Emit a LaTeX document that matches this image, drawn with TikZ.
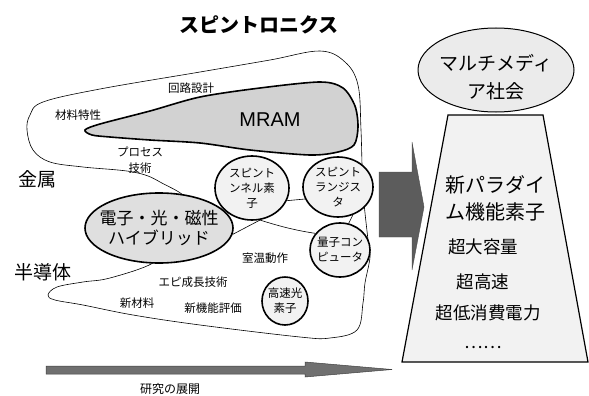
\documentclass[tikz,border=0pt]{standalone}
\usepackage{fontspec}
\setmainfont{Noto Sans CJK JP}
\newfontfamily\latinsans{Liberation Sans}
\usepackage{tikz}
\usetikzlibrary{shapes.geometric}

\begin{document}
\begin{tikzpicture}[x=1pt,y=-1pt,
    blob/.style={line width=.6pt},
    elem/.style={ellipse,draw,line width=1.6pt,fill=gray!10,inner sep=-2pt,align=center,
                 font=\fontsize{11.5}{15}\selectfont},
    lbl/.style={font=\fontsize{11.5}{16}\selectfont,align=center},
    big/.style={font=\fontsize{19}{22}\selectfont},
    feat/.style={font=\fontsize{17.5}{20}\selectfont}]
    \useasboundingbox (0,0) rectangle (589,396);
    % outline of the two fields
    \draw[blob] plot[smooth cycle,tension=.6] coordinates {(190,205) (160,182) (133,172) (83,167)
        (50,162) (33,150) (27,130) (30,115) (43,102) (100,89) (200,72) (270,60) (320,51) (345,62)
        (358,85) (361,130) (363,190) (368,240) (370,257) (365,283) (363,303) (357,330) (330,338)
        (300,337) (200,325) (133,315) (83,305) (55,300) (48,295) (57,287) (83,282) (110,278)
        (153,263) (165,245)};
    % MRAM
    \filldraw[fill=gray!35,line width=1.6pt] plot[smooth cycle,tension=.5] coordinates {(85,130)
        (100,124) (150,111) (200,97) (260,88) (320,82) (343,88) (355,106) (358,127) (354,145)
        (338,152) (310,155) (250,150) (200,143) (150,140) (110,137) (92,135)};
    \node[font=\latinsans\fontsize{20}{24}\selectfont] (mram) at (270,120) {MRAM};

    \node[font=\bfseries\fontsize{20}{24}\selectfont] (title) at (259,25) {スピントロニクス};

    \node[elem,fill=gray!25,inner xsep=-8pt,inner ysep=0pt,minimum width=148pt,minimum height=70pt,
          font=\fontsize{17}{20}\selectfont] (hybrid) at (159,228) {電子・光・磁性\\ハイブリッド};
    \node[elem,minimum width=74pt,minimum height=64pt] (tunnel) at (252,188) {スピント\\ンネル素\\子};
    \node[elem,minimum width=70pt,minimum height=60pt] (transistor) at (338,187) {スピント\\ランジス\\タ};
    \node[elem,minimum width=60pt,minimum height=54pt] (quantum) at (340,250) {量子コン\\ピュータ};
    \node[elem,minimum width=46pt,minimum height=48pt] (optical) at (285,301) {高速光\\素子};

    \draw[blob] (hybrid.-5) -- (tunnel.-76);
    \draw[blob] (tunnel.-20) -- (transistor.200);
    \draw[blob] (tunnel.-76) .. controls (285,228) and (300,231) .. (quantum.146);
    \draw[blob] (transistor.-62) -- (quantum.72);

    \node[lbl] (circuit) at (191,88) {回路設計};
    \node[lbl] (matprop) at (78,115) {材料特性};
    \node[lbl] (process) at (140,160) {プロセス\\技術};
    \node[big] (metal) at (37,179) {金属};
    \node[big] (semi) at (43,272) {半導体};
    \node[lbl] (roomtemp) at (265,258) {室温動作};
    \node[lbl] (epi) at (193,282) {エピ成長技術};
    \node[lbl] (newmat) at (137,303) {新材料};
    \node[lbl] (neweval) at (213,308) {新機能評価};

    % research arrow
    \filldraw[fill=black!56,draw=black!75,line width=.5pt] (46,366) -- (305,366) -- (305,362)
        -- (392,369.5) -- (305,377) -- (305,374) -- (46,374) -- cycle;
    \node[font=\fontsize{12}{14}\selectfont] (research) at (170,389) {研究の展開};

    % big arrow and new devices
    \filldraw[fill=black!64,draw=black!70,line width=.4pt] (379,172) -- (412,172) -- (412,142)
        -- (424,207) -- (412,270) -- (412,237) -- (379,237) -- cycle;
    \filldraw[fill=gray!10,line width=1.2pt] (448,115) -- (543,115) -- (588,362) -- (402,362) -- cycle;
    \node[font=\fontsize{20}{27}\selectfont,align=center] (paradigm) at (495,198) {新パラダイ\\ム機能素子};
    \node[feat] (capacity) at (483,247) {超大容量};
    \node[feat] (speed) at (483,282) {超高速};
    \node[feat] (power) at (488,313) {超低消費電力};
    \node[feat] (etc) at (483,348) {……};

    \node[ellipse,draw,line width=1pt,fill=gray!16,minimum width=156pt,minimum height=84pt] (society) at (496,70) {};
    \node[big,font=\fontsize{19}{27.5}\selectfont,align=center] (societytext) at (496,77) {マルチメディ\\ア社会};
\end{tikzpicture}
\end{document}
